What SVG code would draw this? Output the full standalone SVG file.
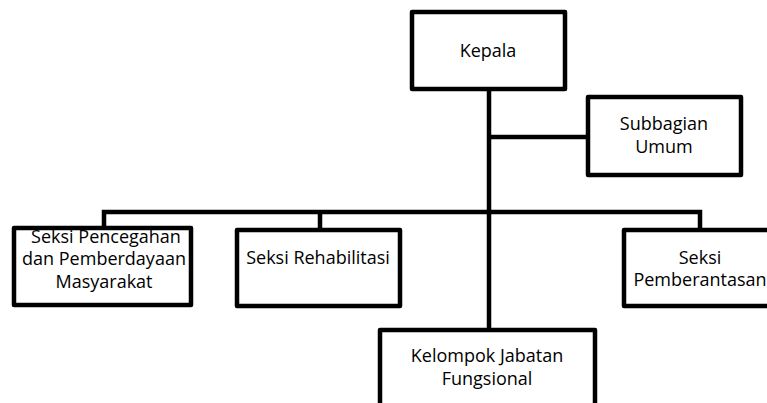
<svg xmlns="http://www.w3.org/2000/svg" width="767" height="403" viewBox="0 0 767 403">
<style>
.box{fill:#fff;stroke:#000;stroke-width:4.5;stroke-linejoin:round}
.ln{fill:none;stroke:#000;stroke-width:4.5;stroke-linejoin:miter}
.t{font-family:"Open Sans","Noto Sans","Liberation Sans",sans-serif;font-size:18px;fill:#000;text-anchor:middle}
</style>
<rect width="767" height="403" fill="#fff"/>
<g id="connectors">
<path class="ln" d="M489 89V330"/>
<path class="ln" d="M489 137H588"/>
<path class="ln" d="M104 228V212H700V230"/>
<path class="ln" d="M320 212V230"/>
</g>
<g id="kepala">
<rect class="box" x="412" y="12" width="153" height="77"/>
<text class="t" x="488" y="57">Kepala</text>
</g>
<g id="subbagian">
<rect class="box" x="588" y="97" width="153" height="78"/>
<text class="t" x="664" y="130">Subbagian</text>
<text class="t" x="664" y="153">Umum</text>
</g>
<g id="pencegahan">
<rect class="box" x="14" y="228" width="177" height="77"/>
<text class="t" x="106" y="243">Seksi Pencegahan</text>
<text class="t" x="104" y="265">dan Pemberdayaan</text>
<text class="t" x="104" y="288">Masyarakat</text>
</g>
<g id="rehabilitasi">
<rect class="box" x="237" y="230" width="163" height="76"/>
<text class="t" x="318" y="264">Seksi Rehabilitasi</text>
</g>
<g id="pemberantasan">
<rect class="box" x="624" y="230" width="160" height="76"/>
<text class="t" x="700" y="264">Seksi</text>
<text class="t" x="700" y="286">Pemberantasan</text>
</g>
<g id="kelompok">
<rect class="box" x="380" y="330" width="215" height="100"/>
<text class="t" x="487" y="362">Kelompok Jabatan</text>
<text class="t" x="487" y="385">Fungsional</text>
</g>
</svg>
